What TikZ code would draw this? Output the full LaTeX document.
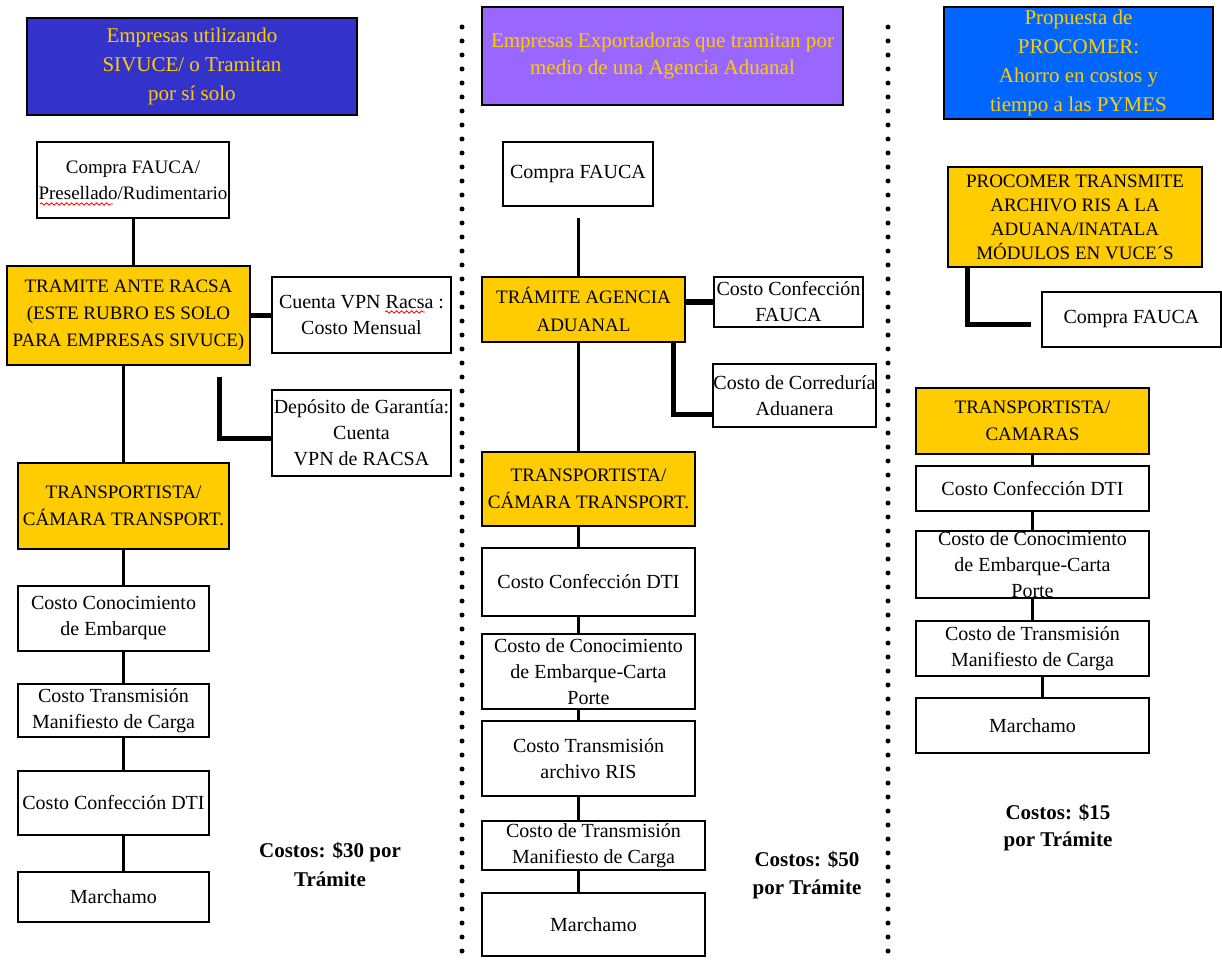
\documentclass[tikz,border=0pt]{standalone}
\usepackage{fontspec}
\setmainfont{Liberation Serif}
\usetikzlibrary{calc,decorations.pathmorphing}
\definecolor{azulA}{HTML}{3333CC}
\definecolor{lila}{HTML}{9966FF}
\definecolor{azulB}{HTML}{0066FF}
\definecolor{amarillo}{HTML}{FFCC00}

\begin{document}
\begin{tikzpicture}[x=1pt,y=-1pt,
    tam/.style 2 args={minimum width=#1,minimum height=#2},
    caja/.style={draw,line width=2pt,fill=white,inner sep=0pt,align=center,font=\fontsize{20}{26}\selectfont},
    amarilla/.style={caja,fill=amarillo,font=\fontsize{19}{27}\selectfont},
    titulo/.style={caja,text=amarillo,font=\fontsize{21}{29}\selectfont},
    linea/.style={line width=3pt},
    grueso/.style={line width=5pt},
    costo/.style={align=center,font=\bfseries\fontsize{21}{29}\selectfont},
    puntos/.style={line width=5pt,line cap=round,dash pattern=on 0pt off 14pt},
    rojo/.style={red,line width=0.8pt,decorate,decoration={snake,amplitude=1.2pt,segment length=5pt}}]

            \fill[white] (0,0) rectangle (1222,965);
            \useasboundingbox (0,0) rectangle (1222,965);

            \draw[puntos] (462,27) -- (462,965);
            \draw[puntos] (888,27) -- (888,965);

            \node[titulo,fill=azulA,tam={330}{97}] (h1) at (192,66.5) {Empresas utilizando\\SIVUCE/ o Tramitan\\por sí solo};
            \node[caja,tam={192}{76},font=\fontsize{19}{26}\selectfont] (fauca1) at (133,180) {Compra FAUCA/\\Presellado/Rudimentario};
            \node[amarilla,tam={243}{99}] (racsa) at (128.5,315.5) {TRAMITE ANTE RACSA\\(ESTE RUBRO ES SOLO\\PARA EMPRESAS SIVUCE)};
            \node[caja,tam={179}{76}] (vpn) at (361.5,315) {Cuenta VPN Racsa :\\Costo Mensual};
            \node[caja,tam={179}{86}] (deposito) at (361.5,433) {Depósito de Garantía:\\Cuenta\\VPN de RACSA};
            \node[amarilla,tam={211}{86}] (transp1) at (123.5,506) {TRANSPORTISTA/\\CÁMARA TRANSPORT.};
            \node[caja,tam={191}{65}] (conoc1) at (113.5,618.5) {Costo Conocimiento\\de Embarque};
            \node[caja,tam={191}{53}] (manif1) at (113.5,710.5) {Costo Transmisión\\Manifiesto de Carga};
            \node[caja,tam={191}{64}] (dti1) at (113.5,803) {Costo Confección DTI};
            \node[caja,tam={191}{50}] (march1) at (113.5,897) {Marchamo};
            \node[costo] (costos1) at (330,864) {Costos: \$30 por\\Trámite};

            \draw[rojo] (40,204) -- (113,204);
            \draw[rojo] (385,312) -- (425,312);

            \draw[linea] (fauca1.south) -- (fauca1.south |- racsa.north);
            \draw[linea] (transp1.north |- racsa.south) -- (transp1.north);
            \draw[grueso] (racsa.east |- vpn.west) -- (vpn.west);
            \draw[grueso] ($(racsa.south east)+(-32,11)$) |- ($(deposito.west)+(0,5)$);
            \foreach \a/\b in {transp1/conoc1,conoc1/manif1,manif1/dti1,dti1/march1}
                \draw[linea] (transp1.south |- \a.south) -- (transp1.south |- \b.north);

            \node[titulo,fill=lila,tam={361}{98},font=\fontsize{21}{27}\selectfont] (h2) at (662.5,56) {Empresas Exportadoras que tramitan por\\medio de una Agencia Aduanal};
            \node[caja,tam={150}{64}] (fauca2) at (578,174) {Compra FAUCA};
            \node[amarilla,tam={203}{65},font=\fontsize{19}{28}\selectfont] (agencia) at (583.5,309.5) {TRÁMITE AGENCIA\\ADUANAL};
            \node[caja,tam={149}{50}] (conffauca) at (788.5,302) {Costo Confección\\FAUCA};
            \node[caja,tam={161}{63}] (corred) at (794.5,395.5) {Costo de Correduría\\Aduanera};
            \node[amarilla,tam={213}{74}] (transp2) at (588.5,489) {TRANSPORTISTA/\\CÁMARA TRANSPORT.};
            \node[caja,tam={213}{68}] (dti2) at (588.5,582) {Costo Confección DTI};
            \node[caja,tam={213}{75}] (conoc2) at (588.5,671.5) {Costo de Conocimiento\\de Embarque-Carta\\Porte};
            \node[caja,tam={213}{75}] (ris2) at (588.5,758.5) {Costo Transmisión\\archivo RIS};
            \node[caja,tam={223}{49}] (manif2) at (593.5,845.5) {Costo de Transmisión\\Manifiesto de Carga};
            \node[caja,tam={223}{63}] (march2) at (593.5,924.5) {Marchamo};
            \node[costo,font=\bfseries\fontsize{21}{28}\selectfont] (costos2) at (807,875) {Costos: \$50\\por Trámite};

            \draw[linea,shorten <=11pt] (fauca2.south) -- (fauca2.south |- agencia.north);
            \draw[linea] (fauca2.south |- agencia.south) -- (fauca2.south |- transp2.north);
            \draw[grueso] (agencia.east |- conffauca.west) -- (conffauca.west);
            \draw[grueso] ($(agencia.south east)+(-13,0)$) |- ($(corred.south west)+(0,-14)$);
            \foreach \a/\b in {transp2/dti2,dti2/conoc2,conoc2/ris2,ris2/manif2,manif2/march2}
                \draw[linea] (fauca2.south |- \a.south) -- (fauca2.south |- \b.north);

            \node[titulo,fill=azulB,tam={269}{112}] (h3) at (1078.5,63) {Propuesta de\\PROCOMER:\\Ahorro en costos y\\tiempo a las PYMES};
            \node[amarilla,tam={254}{100},font=\fontsize{19}{24}\selectfont] (procomer) at (1075,217) {PROCOMER TRANSMITE\\ARCHIVO RIS A LA\\ADUANA/INATALA\\MÓDULOS EN VUCE´S};
            \node[caja,tam={179}{55}] (fauca3) at (1131.5,319.5) {Compra FAUCA};
            \node[amarilla,tam={233}{66}] (transp3) at (1032.5,421) {TRANSPORTISTA/\\CAMARAS};
            \node[caja,tam={233}{45}] (dti3) at (1032.5,488.5) {Costo Confección DTI};
            \node[caja,tam={233}{67}] (conoc3) at (1032.5,564.5) {Costo de Conocimiento\\de Embarque-Carta\\Porte};
            \node[caja,tam={233}{55}] (manif3) at (1032.5,648.5) {Costo de Transmisión\\Manifiesto de Carga};
            \node[caja,tam={233}{55}] (march3) at (1032.5,725.5) {Marchamo};
            \node[costo,font=\bfseries\fontsize{21}{27}\selectfont] (costos3) at (1058,828) {Costos: \$15\\por Trámite};

            \draw[grueso] ($(procomer.south west)+(20,0)$) |- ($(fauca3.west)+(-10,5)$);
            \foreach \a/\b in {transp3/dti3,dti3/conoc3,conoc3/manif3}
                \draw[linea] (transp3.south |- \a.south) -- (transp3.south |- \b.north);
            \draw[linea] ($(manif3.south)+(10,0)$) -- ($(march3.north)+(10,0)$);
        \end{tikzpicture}
\end{document}
